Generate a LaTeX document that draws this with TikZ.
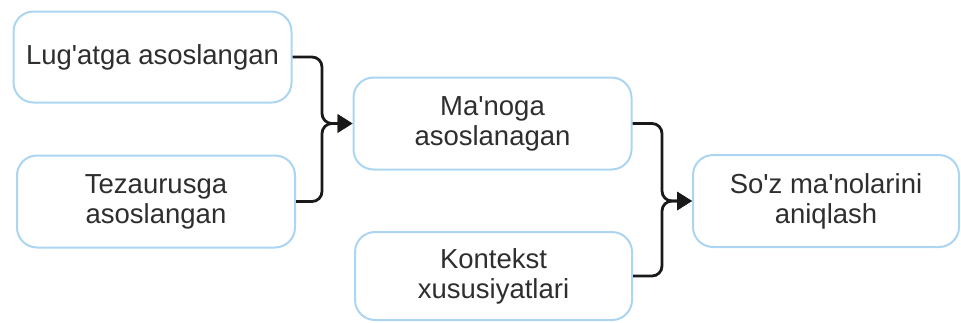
\documentclass[tikz,border=0pt]{standalone}
\usepackage{fontspec}
\setmainfont{Liberation Sans}[Ligatures=TeXOff]
\usetikzlibrary{arrows.meta}
\definecolor{boxblue}{HTML}{ACD5F1}
\definecolor{txt}{HTML}{2E2E2E}
\begin{document}
\begin{tikzpicture}[x=1pt,y=-1pt,
  box/.style={draw=boxblue, line width=2pt, rounded corners=20pt, fill=white,
    inner sep=0pt, align=center, text=txt,
    font=\fontsize{27.5}{30}\selectfont},
  conn/.style={draw=black!90, line width=2.8pt, rounded corners=10pt,
    -{Triangle[length=15pt,width=18pt]}}]
\useasboundingbox (0,0) rectangle (961,322);
\node[box, minimum width=278pt, minimum height=91pt] (b1) at (152.5,57) {Lug'atga asoslangan};
\node[box, minimum width=278pt, minimum height=92pt] (b2) at (156,201.5) {Tezaurusga\\asoslangan};
\node[box, minimum width=278pt, minimum height=92pt] (b3) at (492.5,123.5) {Ma'noga\\asoslanagan};
\node[box, minimum width=277pt, minimum height=88pt] (b4) at (493.5,276) {Kontekst\\xususiyatlari};
\node[box, minimum width=266pt, minimum height=92pt] (b5) at (826,201) {So'z ma'nolarini\\aniqlash};
\coordinate (j1) at (322,123.5);
\coordinate (j2) at (662,201);
\draw[conn] (b1.east) -| (j1) -- (b3.west);
\draw[conn] (b2.east) -| (j1) -- (b3.west);
\draw[conn] (b3.east) -| (j2) -- (b5.west);
\draw[conn] (b4.east) -| (j2) -- (b5.west);
\end{tikzpicture}
\end{document}
